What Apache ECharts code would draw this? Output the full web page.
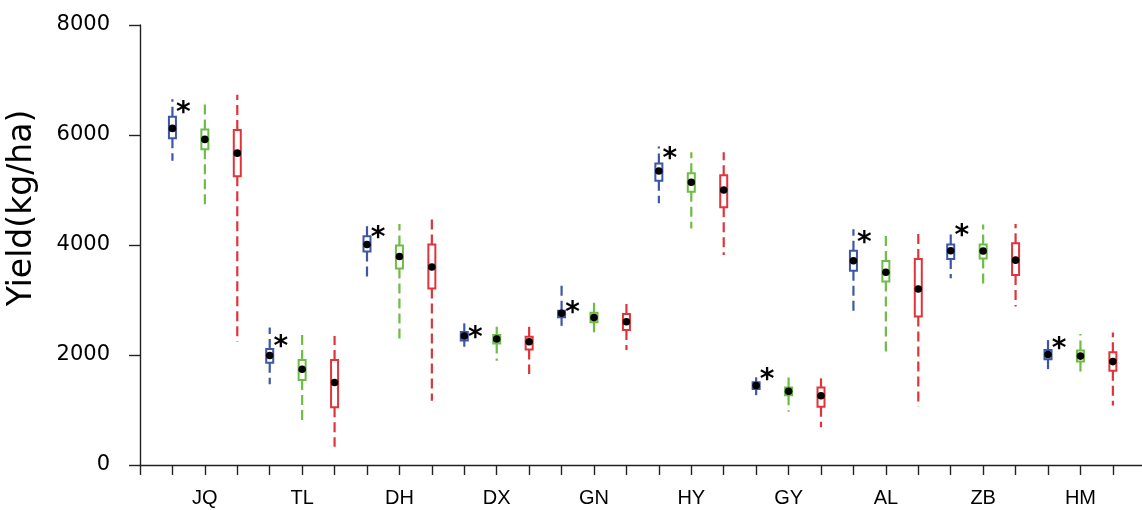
<!DOCTYPE html>
<html><head><meta charset="utf-8">
<script src="https://cdn.jsdelivr.net/npm/echarts@6/dist/echarts.min.js"></script>
<style>html,body{margin:0;padding:0;background:#fff}#c{width:1142px;height:510px}</style>
</head><body><div id="c"></div><script>
const categories = ['JQ','TL','DH','DX','GN','HY','GY','AL','ZB','HM'];
// each entry: [min, Q1, median, Q3, max]
const blueStats = [
  [5530,5940,6120,6330,6650],[1470,1860,1990,2110,2500],[3380,3880,4010,4160,4380],
  [2150,2265,2345,2420,2575],[2530,2685,2760,2805,3300],[4760,5170,5345,5480,5790],
  [1270,1380,1445,1505,1595],[2800,3530,3715,3895,4285],[3395,3745,3895,4010,4240],
  [1665,1925,2010,2090,2320]
];
const greenStats = [
  [4650,5740,5920,6100,6590],[805,1545,1740,1910,2420],[2290,3575,3790,3990,4380],
  [1895,2210,2290,2365,2515],[2380,2595,2680,2770,2950],[4300,4970,5140,5305,5685],
  [970,1270,1340,1410,1620],[2040,3335,3505,3710,4200],[3210,3755,3890,4010,4375],
  [1665,1880,1980,2080,2380]
];
const redStats = [
  [2240,5250,5670,6090,6730],[330,1050,1500,1910,2345],[1170,3210,3600,4010,4510],
  [1655,2100,2240,2330,2590],[2090,2455,2605,2745,2965],[3820,4685,5000,5270,5685],
  [685,1060,1260,1410,1575],[1060,2700,3200,3745,4230],[2880,3455,3725,4030,4380],
  [1080,1715,1880,2050,2410]
];
// vertical position (in yield units) of the significance asterisk beside the blue box
const starValues = [6490,2240,4230,2410,2865,5665,1635,4140,4260,2210];
const starText = '*';
const yMin = 0, yMax = 8000, yStep = 2000;

const slotCount = 32;
const slots = Array.from({length: slotCount}, (_, i) => String(i));

function makeSeries(name, stats, offset, color, stars) {
  return {
    type: 'custom',
    name: name,
    data: stats.map((s, i) => [3 * i + 1 + offset, s[0], s[1], s[2], s[3], s[4], stars ? stars[i] : 0]),
    encode: { x: 0, y: [1, 2, 3, 4, 5] },
    renderItem: function (params, api) {
      const x = api.value(0);
      const pMin = api.coord([x, api.value(1)]);
      const pQ1 = api.coord([x, api.value(2)]);
      const pMed = api.coord([x, api.value(3)]);
      const pQ3 = api.coord([x, api.value(4)]);
      const pMax = api.coord([x, api.value(5)]);
      const cx = pMin[0];
      const dash = { stroke: color, lineWidth: 2.2, lineDash: [10, 5] };
      const children = [
        { type: 'line', shape: { x1: cx, y1: pQ3[1], x2: cx, y2: pMax[1] }, style: dash },
        { type: 'line', shape: { x1: cx, y1: pQ1[1], x2: cx, y2: pMin[1] }, style: dash },
        { type: 'rect', shape: { x: cx - 3.5, y: pQ3[1], width: 7, height: pQ1[1] - pQ3[1] },
          style: { fill: '#fff', stroke: color, lineWidth: 2 } },
        { type: 'circle', shape: { cx: cx, cy: pMed[1], r: 3.8 }, style: { fill: '#000' } }
      ];
      if (stars) {
        const pStar = api.coord([x, api.value(6)]);
        children.push({ type: 'text', style: {
          text: starText, x: cx + 11, y: pStar[1] + 6, fill: '#000',
          font: 'bold 28px "DejaVu Sans"', align: 'center', verticalAlign: 'middle' } });
      }
      return { type: 'group', children: children };
    }
  };
}

const chart = echarts.init(document.getElementById('c'), null, { renderer: 'canvas' });
chart.setOption({
  animation: false,
  backgroundColor: '#fff',
  textStyle: { fontFamily: '"Liberation Sans", Arial, sans-serif' },
  grid: { left: 140, top: 25, width: 1005.3, height: 440, containLabel: false, outerBoundsMode: 'none' },
  xAxis: {
    type: 'category',
    data: slots,
    boundaryGap: false,
    axisLine: { show: true, lineStyle: { color: '#222', width: 1.4 } },
    axisTick: { show: true, length: 10, interval: (idx) => idx <= 30, lineStyle: { color: '#222', width: 1.4 } },
    axisLabel: {
      interval: 0, margin: 23, color: '#000', fontSize: 20,
      fontFamily: '"Liberation Sans", Arial, sans-serif',
      formatter: (v, idx) => (idx % 3 === 2 && idx < 30) ? categories[(idx - 2) / 3] : ''
    },
    splitLine: { show: false }
  },
  yAxis: {
    type: 'value', min: yMin, max: yMax, interval: yStep,
    name: 'Yield(kg/ha)', nameLocation: 'middle', nameRotate: 90, nameGap: 101,
    nameTextStyle: { fontSize: 33, color: '#000', fontFamily: '"DejaVu Sans", sans-serif', padding: [0, 0, 0, 74] },
    axisLine: { show: true, lineStyle: { color: '#222', width: 1.4 } },
    axisTick: { show: true, length: 11, lineStyle: { color: '#222', width: 1.4 } },
    axisLabel: { margin: 30, color: '#000', fontSize: 21, fontFamily: '"DejaVu Sans", sans-serif',
      formatter: (v) => String(v) },
    splitLine: { show: false }
  },
  series: [
    makeSeries('blue', blueStats, 0, '#3c57a6', starValues),
    makeSeries('green', greenStats, 1, '#6cbd45', null),
    makeSeries('red', redStats, 2, '#e0343a', null)
  ]
});
</script></body></html>
